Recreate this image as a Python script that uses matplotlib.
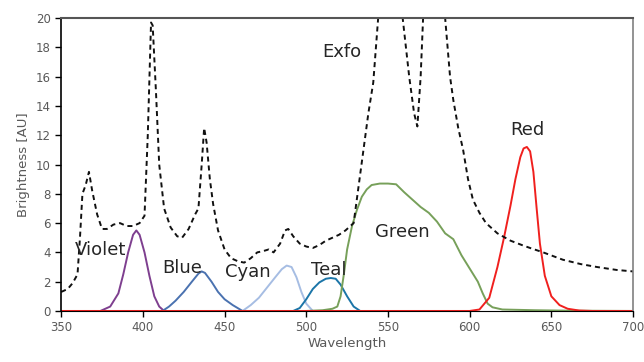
import matplotlib
matplotlib.use('Agg')
import matplotlib.pyplot as plt

# exfo lamp spectrum (dashed), values above 20 get clipped by the axis
exfo_x = [350, 354, 357, 360, 361.5, 363, 365, 367, 369, 372, 375, 378, 382, 386, 390, 394, 398,
	401, 403, 405, 406, 408, 410, 413, 417, 421, 424, 428, 432, 434, 436, 437.5, 439, 441, 443,
	446, 450, 454, 458, 462, 466, 470, 474, 477, 480, 484, 487, 489, 492, 496, 500, 504, 508,
	512, 516, 520, 524, 529, 532, 535, 538, 541, 544, 551, 559, 563, 566, 568, 570, 571.5, 578,
	585, 588, 590, 593, 596, 599, 602, 606, 610, 617, 625, 632, 637, 645, 657, 668, 678, 690, 700]
exfo_y = [1.3, 1.5, 1.9, 2.5, 5.0, 8.0, 8.6, 9.5, 8.2, 6.6, 5.6, 5.6, 5.9, 6.0, 5.8, 5.8, 6.0,
	6.5, 12.0, 19.7, 19.5, 15.0, 10.0, 7.0, 5.7, 5.1, 5.0, 5.6, 6.6, 7.0, 10.0, 12.5, 11.5, 9.0, 7.3,
	5.5, 4.2, 3.6, 3.4, 3.3, 3.6, 4.0, 4.1, 4.2, 4.0, 4.6, 5.5, 5.6, 5.1, 4.6, 4.4, 4.3, 4.5,
	4.8, 5.0, 5.2, 5.5, 6.0, 8.5, 11.0, 13.5, 15.6, 20.0, 38.0, 20.0, 16.0, 13.5, 12.6, 16.0, 20.0, 40.0,
	20.0, 16.0, 14.4, 12.5, 11.0, 9.0, 7.6, 6.7, 6.0, 5.3, 4.8, 4.5, 4.3, 4.0, 3.5, 3.2, 3.0, 2.8, 2.7]

violet_x = [374, 380, 385, 388, 391, 394, 396, 398, 401, 404, 407, 410, 413]
violet_y = [0, 0.3, 1.2, 2.5, 4.0, 5.2, 5.5, 5.2, 4.0, 2.4, 1.0, 0.3, 0]

blue_x = [412, 416, 420, 425, 430, 434, 436, 438, 442, 446, 450, 455, 461]
blue_y = [0, 0.3, 0.7, 1.3, 2.0, 2.55, 2.7, 2.6, 2.0, 1.3, 0.8, 0.4, 0]

cyan_x = [461, 466, 471, 476, 481, 485, 488, 491, 494, 497, 500, 504]
cyan_y = [0, 0.4, 0.9, 1.6, 2.3, 2.85, 3.1, 3.0, 2.3, 1.3, 0.5, 0]

teal_x = [492, 496, 500, 504, 508, 512, 515, 518, 521, 525, 529, 533]
teal_y = [0, 0.2, 0.8, 1.5, 1.95, 2.2, 2.25, 2.2, 1.8, 1.0, 0.3, 0]

green_x = [500, 510, 516, 519, 521, 523, 525, 528, 531, 534, 537, 540, 545, 550, 555, 560, 565,
	570, 575, 580, 585, 590, 595, 600, 605, 608, 611, 614, 620, 640, 660, 700]
green_y = [0, 0.05, 0.15, 0.3, 1.0, 2.5, 4.2, 5.8, 6.9, 7.8, 8.3, 8.6, 8.7, 8.7, 8.65, 8.1, 7.6,
	7.1, 6.7, 6.1, 5.3, 4.9, 3.8, 2.9, 2.0, 1.2, 0.5, 0.25, 0.1, 0.05, 0.02, 0]

red_x = [350, 600, 606, 612, 617, 621, 625, 628, 631, 633, 635, 637, 639, 641, 643, 646, 650,
	655, 660, 667, 675, 700]
red_y = [0, 0, 0.1, 0.9, 3.0, 5.0, 7.2, 9.0, 10.5, 11.1, 11.2, 10.9, 9.5, 7.0, 4.6, 2.4, 1.0,
	0.4, 0.15, 0.03, 0, 0]

labels = ['Exfo', 'Violet', 'Blue', 'Cyan', 'Teal', 'Green', 'Red']
label_pos = [(522, 17.7), (374, 4.15), (424, 2.9), (464.5, 2.65), (513.5, 2.8), (559, 5.4), (635.5, 12.35)]

fig = plt.figure(figsize=(6.44, 3.62), dpi=100)
ax = fig.add_axes([0.095, 0.141, 0.888, 0.809])

grey = '#595959'
ax.plot(violet_x, violet_y, color='#7E3F8F', lw=1.4)
ax.plot(blue_x, blue_y, color='#4A72B0', lw=1.4)
ax.plot(cyan_x, cyan_y, color='#A6BDE3', lw=1.4)
ax.plot(teal_x, teal_y, color='#1B75A8', lw=1.4)
ax.plot(green_x, green_y, color='#77A05A', lw=1.4)
ax.plot(red_x, red_y, color='#F0201E', lw=1.4)
ax.plot(exfo_x, exfo_y, color='#111111', lw=1.4, ls=(0, (2.6, 2.0)))

for t, (x, y) in zip(labels, label_pos):
	ax.text(x, y, t, fontsize=13, color='#262626', ha='center', va='center')

ax.set_xlim(350, 700)
ax.set_ylim(0, 20)
ax.set_xticks(range(350, 701, 50))
ax.set_yticks(range(0, 21, 2))
ax.tick_params(colors=grey, labelsize=8.5, length=4, width=1)
ax.tick_params(axis='x', colors='black', labelcolor=grey)
ax.tick_params(axis='y', colors='black', labelcolor=grey)
ax.set_xlabel('Wavelength', fontsize=9.5, color=grey, labelpad=2)
ax.set_ylabel('Brightness [AU]', fontsize=9.5, color=grey, labelpad=4)

ax.spines['left'].set_color('black')
ax.spines['left'].set_linewidth(1.2)
ax.spines['bottom'].set_color('black')
ax.spines['top'].set_color('#555555')
ax.spines['top'].set_linewidth(1.5)
ax.spines['right'].set_color('#808080')
ax.spines['right'].set_linewidth(1.2)

fig.savefig('out.png', dpi=100)
